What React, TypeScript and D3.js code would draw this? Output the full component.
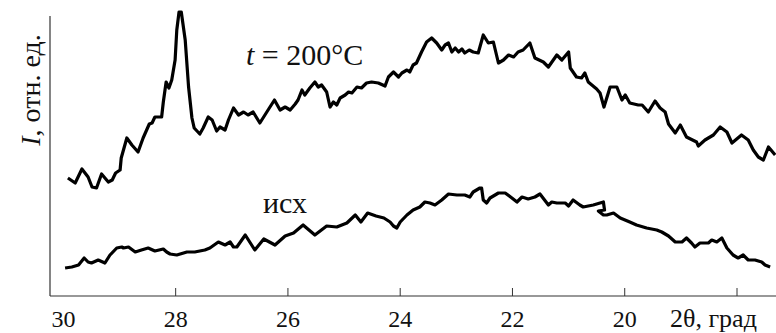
import React from "react";
import * as d3 from "d3";

// 2θ positions (degrees) and intensities (arb. units) of the annealed sample, t = 200 °C
const annealedTheta = [
  29.92, 29.79, 29.67, 29.56, 29.49, 29.41, 29.32, 29.2, 29.13, 29.07, 28.99, 28.97,
  28.87, 28.78, 28.67, 28.58, 28.47, 28.42, 28.37, 28.25, 28.22, 28.17, 28.12, 28.07,
  28.01, 27.98, 27.94, 27.9, 27.83, 27.77, 27.71, 27.67, 27.57, 27.51, 27.42, 27.35,
  27.27, 27.21, 27.12, 27.06, 26.97, 26.88, 26.79, 26.71, 26.62, 26.5, 26.41, 26.32,
  26.24, 26.14, 26.05, 25.96, 25.87, 25.82, 25.75, 25.7, 25.61, 25.52, 25.46, 25.4,
  25.31, 25.25, 25.19, 25.13, 25.07, 24.98, 24.92, 24.86, 24.77, 24.69, 24.6, 24.51,
  24.39, 24.27, 24.21, 24.12, 24.03, 23.97, 23.88, 23.83, 23.77, 23.71, 23.62, 23.53,
  23.44, 23.35, 23.26, 23.2, 23.14, 23.08, 23.02, 22.96, 22.9, 22.85, 22.77, 22.7,
  22.61, 22.52, 22.43, 22.34, 22.25, 22.16, 22.07, 21.98, 21.9, 21.81, 21.69, 21.6,
  21.45, 21.36, 21.21, 21.12, 21.0, 20.97, 20.86, 20.77, 20.71, 20.65, 20.5, 20.44,
  20.37, 20.26, 20.14, 20.05, 19.99, 19.91, 19.76, 19.69, 19.58, 19.46, 19.37, 19.28,
  19.22, 19.1, 19.01, 18.9, 18.72, 18.69, 18.57, 18.42, 18.3, 18.18, 18.09, 17.92,
  17.8, 17.71, 17.62, 17.53, 17.44, 17.32,
];
const annealedI = [
  118, 113, 127, 119, 109, 108, 122, 114, 116, 123, 126, 138,
  158, 151, 144, 158, 172, 173, 179, 179, 194, 214, 208, 216,
  236, 266, 284, 284, 256, 209, 178, 168, 162, 168, 179, 176,
  165, 169, 166, 176, 188, 181, 184, 181, 184, 173, 181, 189,
  196, 186, 189, 186, 192, 196, 206, 201, 208, 214, 209, 211,
  204, 189, 194, 191, 198, 201, 204, 203, 209, 208, 213, 214,
  213, 210, 219, 224, 219, 223, 226, 224, 231, 233, 244, 254,
  258, 253, 246, 251, 253, 244, 248, 244, 247, 243, 246, 244,
  243, 261, 253, 254, 233, 236, 241, 239, 244, 246, 253, 238,
  234, 229, 241, 236, 244, 228, 219, 218, 223, 214, 207, 203,
  189, 209, 209, 196, 201, 193, 191, 191, 184, 195, 188, 184,
  172, 163, 171, 159, 154, 150, 156, 161, 169, 164, 153, 161,
  156, 146, 139, 136, 149, 141,
];

// Initial (as-prepared) sample
const initialTheta = [
  29.97, 29.85, 29.73, 29.63, 29.56, 29.5, 29.38, 29.26, 29.17, 29.05, 28.96, 28.93,
  28.84, 28.72, 28.61, 28.49, 28.37, 28.22, 28.16, 28.1, 27.98, 27.8, 27.66, 27.57,
  27.48, 27.39, 27.24, 27.12, 27.03, 26.97, 26.91, 26.76, 26.59, 26.43, 26.23, 26.05,
  25.9, 25.73, 25.52, 25.31, 25.13, 24.95, 24.8, 24.7, 24.58, 24.43, 24.29, 24.18,
  24.12, 24.06, 24.0, 23.88, 23.77, 23.65, 23.56, 23.47, 23.38, 23.26, 23.14, 22.99,
  22.85, 22.76, 22.7, 22.58, 22.55, 22.52, 22.46, 22.4, 22.25, 22.13, 22.01, 21.92,
  21.83, 21.72, 21.6, 21.51, 21.36, 21.3, 21.21, 21.15, 21.06, 21.0, 20.92, 20.8,
  20.74, 20.56, 20.38, 20.36, 20.47, 20.38, 20.32, 20.2, 20.08, 19.91, 19.79, 19.61,
  19.43, 19.34, 19.22, 19.1, 18.98, 18.9, 18.81, 18.75, 18.66, 18.51, 18.45, 18.36,
  18.27, 18.18, 18.07, 17.98, 17.89, 17.8, 17.68, 17.56, 17.5, 17.41,
];
const initialI = [
  28, 29, 31, 38, 34, 33, 36, 33, 41, 48, 49, 48,
  49, 44, 46, 48, 45, 47, 44, 42, 41, 44, 44, 45,
  46, 48, 54, 51, 54, 49, 49, 61, 46, 57, 51, 60,
  63, 71, 61, 70, 69, 73, 81, 74, 83, 80, 78, 74,
  70, 68, 74, 81, 86, 89, 94, 93, 91, 96, 102, 101,
  101, 99, 104, 108, 108, 96, 93, 98, 103, 103, 98, 94,
  99, 97, 99, 102, 91, 94, 93, 93, 93, 90, 96, 91,
  89, 91, 94, 86, 85, 81, 81, 83, 78, 74, 71, 68,
  66, 64, 60, 54, 54, 58, 53, 49, 53, 53, 56, 54,
  58, 48, 41, 38, 41, 36, 36, 34, 31, 29,
];

const tickMarks = [28, 26, 24, 22, 20, 18];
const tickLabels = [30, 28, 26, 24, 22, 20];

const W = 776;
const H = 333;
const SERIF = "Liberation Serif";

export default function App() {
  const x = d3.scaleLinear().domain([30, 18]).range([63.4, 737]);
  const y = d3.scaleLinear().domain([0, 280]).range([296, 16]);

  const line = d3
    .line<[number, number]>()
    .x((d) => x(d[0]))
    .y((d) => y(d[1]));

  const annealed = annealedTheta.map((t, i) => [t, annealedI[i]] as [number, number]);
  const initial = initialTheta.map((t, i) => [t, initialI[i]] as [number, number]);

  const axisLeft = 50;
  const axisBottom = y(0);
  const txt = { fontFamily: SERIF };

  return (
    <svg
      width={W}
      height={H}
      style={{ position: "fixed", left: 0, top: 0, background: "#fff" }}
    >
      <rect width={W} height={H} fill="#fff" />

      {/* axes */}
      <line x1={axisLeft} x2={axisLeft} y1={y(280)} y2={axisBottom} stroke="#333" strokeWidth={1.2} />
      <line x1={axisLeft} x2={W} y1={axisBottom} y2={axisBottom} stroke="#333" strokeWidth={1.2} />

      {tickMarks.map((t) => (
        <line key={t} x1={x(t)} x2={x(t)} y1={axisBottom - 8} y2={axisBottom} stroke="#333" strokeWidth={1} />
      ))}
      {tickLabels.map((t) => (
        <text key={t} x={x(t)} y={327} textAnchor="middle" fontSize={24} fill="#111" style={txt}>
          {t}
        </text>
      ))}
      <text x={670} y={327} fontSize={26} fill="#111" style={txt}>
        2θ, град
      </text>

      <text
        transform={`translate(40, 90) rotate(-90)`}
        textAnchor="middle"
        fontSize={28}
        fill="#111"
        style={txt}
      >
        <tspan fontStyle="italic">I</tspan>, отн. ед.
      </text>

      {/* curves */}
      <path d={line(annealed) ?? ""} fill="none" stroke="#000" strokeWidth={3.2} strokeLinejoin="round" />
      <path d={line(initial) ?? ""} fill="none" stroke="#000" strokeWidth={3.2} strokeLinejoin="round" />

      <text x={246} y={65} fontSize={30} fill="#111" style={txt}>
        <tspan fontStyle="italic">t</tspan> = 200°C
      </text>
      <text x={263} y={213} fontSize={30} fill="#111" style={txt}>
        исх
      </text>
    </svg>
  );
}
